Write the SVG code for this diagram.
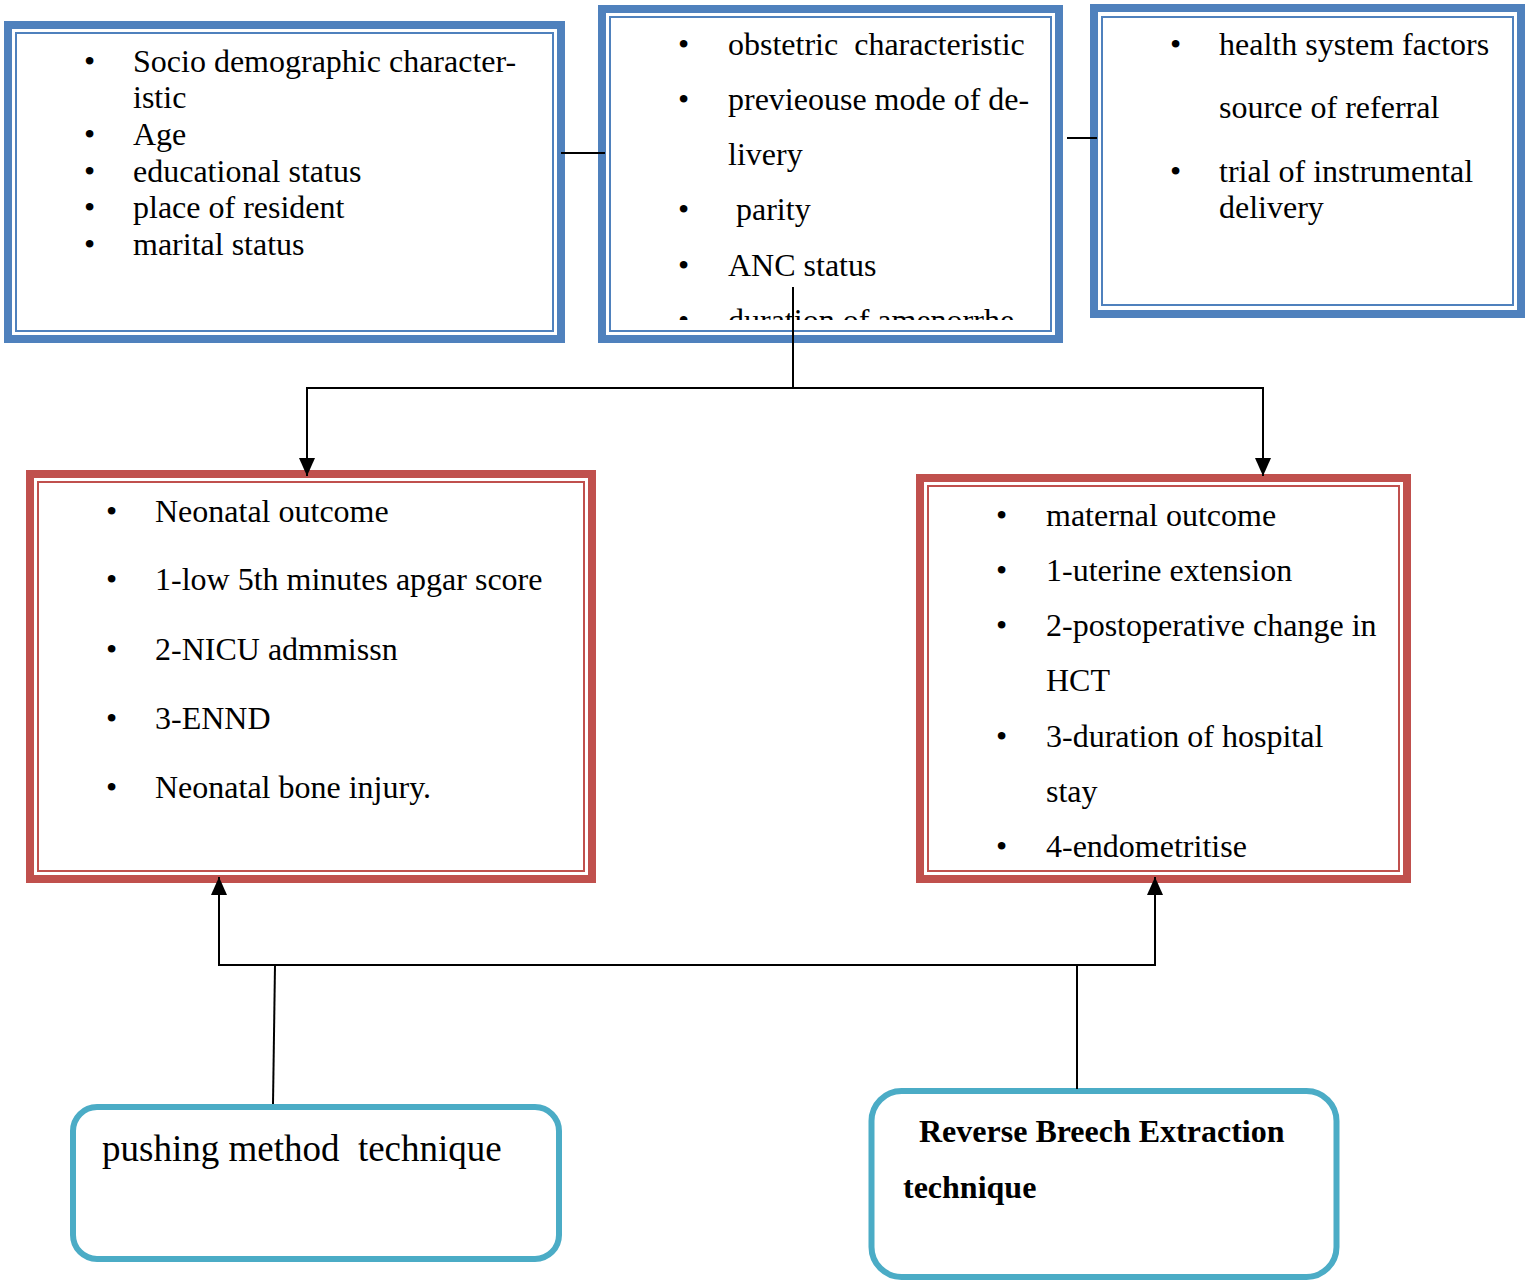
<svg xmlns="http://www.w3.org/2000/svg" width="1525" height="1281" viewBox="0 0 1525 1281">
<style>
.t{font-family:"Liberation Serif","Times New Roman",serif;font-size:32px;fill:#000}
.b{font-weight:bold}
.thickB{fill:none;stroke:#4F81BD;stroke-width:8}
.thinB{fill:none;stroke:#4F81BD;stroke-width:2}
.thickR{fill:none;stroke:#C0504D;stroke-width:8}
.thinR{fill:none;stroke:#C0504D;stroke-width:2}
.teal{fill:#fff;stroke:#4BACC6;stroke-width:6}
.ln{fill:none;stroke:#000;stroke-width:2}
</style>
<defs>
<marker id="ah" markerWidth="18" markerHeight="16" refX="18" refY="8" orient="auto" markerUnits="userSpaceOnUse" viewBox="0 0 18 16">
<path d="M0,0 L18,8 L0,16 Z" fill="#000"/>
</marker>
<clipPath id="c2"><rect x="611" y="18" width="440" height="302"/></clipPath>
</defs>
<rect width="1525" height="1281" fill="#fff"/>

<g id="socio">
<rect class="thickB" x="8" y="25" width="553" height="314"/>
<rect class="thinB" x="16" y="33" width="537" height="298"/>
<text class="t" x="84" y="72">•</text><text class="t" x="133" y="72">Socio demographic character-</text>
<text class="t" x="133" y="108">istic</text>
<text class="t" x="84" y="145">•</text><text class="t" x="133" y="145">Age</text>
<text class="t" x="84" y="182">•</text><text class="t" x="133" y="182">educational status</text>
<text class="t" x="84" y="218">•</text><text class="t" x="133" y="218">place of resident</text>
<text class="t" x="84" y="255">•</text><text class="t" x="133" y="255">marital status</text>
</g>

<g id="obstetric">
<rect class="thickB" x="602" y="9" width="457" height="330"/>
<rect class="thinB" x="610" y="17" width="441" height="314"/>
<g clip-path="url(#c2)">
<text class="t" x="678" y="55">•</text><text class="t" x="728" y="55" xml:space="preserve">obstetric  characteristic</text>
<text class="t" x="678" y="110">•</text><text class="t" x="728" y="110">previeouse mode of de-</text>
<text class="t" x="728" y="165">livery</text>
<text class="t" x="678" y="220">•</text><text class="t" x="736" y="220">parity</text>
<text class="t" x="678" y="276">•</text><text class="t" x="728" y="276">ANC status</text>
<text class="t" x="678" y="331">•</text><text class="t" x="728" y="331">duration of amenorrhe</text>
</g>
</g>

<g id="health">
<rect class="thickB" x="1094" y="8" width="427" height="306"/>
<rect class="thinB" x="1102" y="17" width="411" height="288"/>
<text class="t" x="1170" y="55">•</text><text class="t" x="1219" y="55">health system factors</text>
<text class="t" x="1219" y="118">source of referral</text>
<text class="t" x="1170" y="182">•</text><text class="t" x="1219" y="182">trial of instrumental</text>
<text class="t" x="1219" y="218">delivery</text>
</g>

<g id="neonatal">
<rect class="thickR" x="30" y="474" width="562" height="405"/>
<rect class="thinR" x="38" y="482" width="546" height="389"/>
<text class="t" x="106" y="522">•</text><text class="t" x="155" y="522">Neonatal outcome</text>
<text class="t" x="106" y="590">•</text><text class="t" x="155" y="590">1-low 5th minutes apgar score</text>
<text class="t" x="106" y="660">•</text><text class="t" x="155" y="660">2-NICU admmissn</text>
<text class="t" x="106" y="729">•</text><text class="t" x="155" y="729">3-ENND</text>
<text class="t" x="106" y="798">•</text><text class="t" x="155" y="798">Neonatal bone injury.</text>
</g>

<g id="maternal">
<rect class="thickR" x="920" y="478" width="487" height="401"/>
<rect class="thinR" x="928" y="486" width="471" height="385"/>
<text class="t" x="996" y="526">•</text><text class="t" x="1046" y="526">maternal outcome</text>
<text class="t" x="996" y="581">•</text><text class="t" x="1046" y="581">1-uterine extension</text>
<text class="t" x="996" y="636">•</text><text class="t" x="1046" y="636">2-postoperative change in</text>
<text class="t" x="1046" y="691">HCT</text>
<text class="t" x="996" y="747">•</text><text class="t" x="1046" y="747">3-duration of hospital</text>
<text class="t" x="1046" y="802">stay</text>
<text class="t" x="996" y="857">•</text><text class="t" x="1046" y="857">4-endometritise</text>
</g>

<g id="pushing">
<rect class="teal" x="73" y="1107" width="486" height="152" rx="24"/>
<text class="t" x="102" y="1161" style="font-size:37px" xml:space="preserve">pushing method  technique</text>
</g>

<g id="reverse">
<rect class="teal" x="871.5" y="1091" width="465" height="186" rx="30"/>
<text class="t b" x="919" y="1142">Reverse Breech Extraction</text>
<text class="t b" x="903" y="1198">technique</text>
</g>

<g id="connectors">
<line class="ln" x1="561" y1="153" x2="605" y2="153"/>
<line class="ln" x1="1067" y1="138" x2="1097" y2="138"/>
<line class="ln" x1="793" y1="287" x2="793" y2="388"/>
<line class="ln" x1="306" y1="388" x2="1264" y2="388"/>
<line class="ln" x1="307" y1="388" x2="307" y2="476" marker-end="url(#ah)"/>
<line class="ln" x1="1263" y1="388" x2="1263" y2="476" marker-end="url(#ah)"/>
<line class="ln" x1="218" y1="965" x2="1156" y2="965"/>
<line class="ln" x1="219" y1="965" x2="219" y2="877" marker-end="url(#ah)"/>
<line class="ln" x1="1155" y1="965" x2="1155" y2="877" marker-end="url(#ah)"/>
<line class="ln" x1="275" y1="965" x2="273" y2="1104"/>
<line class="ln" x1="1077" y1="965" x2="1077" y2="1089"/>
</g>
</svg>
